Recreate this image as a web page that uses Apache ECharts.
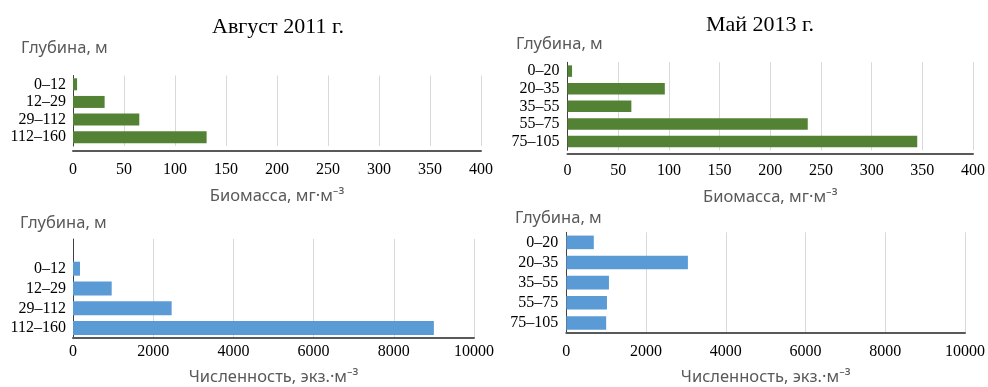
<!DOCTYPE html>
<html>
<head>
<meta charset="utf-8">
<script src="https://cdn.jsdelivr.net/npm/echarts@6/dist/echarts.min.js"></script>
<style>
  html, body { margin: 0; padding: 0; background: #fff; }
  #main { width: 988px; height: 387px; }
</style>
</head>
<body>
<div id="main"></div>
<script>
// глубины
var depthAug = ['0–12', '12–29', '29–112', '112–160'];
var depthMay = ['0–20', '20–35', '35–55', '55–75', '75–105'];
// биомасса, мг·м-3
var biomassAug = [4, 31, 65, 131];
var biomassMay = [4.5, 96, 63, 237, 345];
// численность, экз.·м-3
var countAug = [175, 965, 2460, 9000];
var countMay = [690, 3050, 1070, 1020, 1000];
// подписи осей
var biomassTicks = { min: 0, max: 400, interval: 50 };
var countTicks = { min: 0, max: 10000, interval: 2000 };

var serif = '"Liberation Serif", "Times New Roman", serif';
var sans = '"Noto Sans", "Open Sans", sans-serif';
var green = '#548235';
var blue = '#5b9bd5';

function yAx(grid, cats, margin) {
    return {
        type: 'category',
        gridIndex: grid,
        data: cats,
        inverse: true,
        axisLine: { show: true, lineStyle: { color: '#404040', width: 1 } },
        axisTick: { show: false },
        axisLabel: { interval: 0, fontFamily: serif, fontSize: 16, color: '#000', margin: margin }
    }
}
function xAx(grid, ticks, name, opt) {
    return {
        type: 'value',
        gridIndex: grid,
        min: ticks.min,
        max: ticks.max,
        interval: ticks.interval,
        offset: opt.offset || 0,
        name: name,
        nameLocation: 'middle',
        nameGap: opt.nameGap,
        nameTextStyle: { fontFamily: sans, fontSize: 16.5, color: '#595959' },
        axisLine: { show: true, lineStyle: { color: '#595959', width: 2 } },
        axisTick: { show: false },
        axisLabel: { fontFamily: serif, fontSize: 16, color: '#000', margin: opt.margin,
            formatter: function (v) { return String(v); } },
        splitLine: { show: true, lineStyle: { color: '#d9d9d9', width: 1 } }
    }
}
function depthTitle(left, top) {
    return {
        text: 'Глубина, м', left: left, top: top,
        padding: 0,
        textStyle: { fontFamily: sans, fontSize: 16.5, fontWeight: 'normal', color: '#595959' }
    }
}

// в нижнем левом графике сверху пустая строка
var depthAugPad = [''].concat(depthAug);
var countAugPad = ['-'].concat(countAug);

var chart = echarts.init(document.getElementById('main'));
chart.setOption({
    animation: false,
    title: [
        { text: 'Август 2011 г.', left: 278, top: 16, textAlign: 'center', padding: 0,
          textStyle: { fontFamily: serif, fontSize: 22, fontWeight: 'normal', color: '#000' } },
        { text: 'Май 2013 г.', left: 760, top: 14, textAlign: 'center', padding: 0,
          textStyle: { fontFamily: serif, fontSize: 22, fontWeight: 'normal', color: '#000' } },
        depthTitle(21, 40),
        depthTitle(516, 36),
        depthTitle(20, 215),
        depthTitle(515, 210)
    ],
    grid: [
        { left: 73, top: 75.5, width: 408, height: 70.5 },
        { left: 567.5, top: 62.3, width: 407.6, height: 88 },
        { left: 73, top: 239, width: 401, height: 102.7 },
        { left: 566.3, top: 232.3, width: 401.7, height: 104.4 }
    ],
    yAxis: [
        yAx(0, depthAug, 7),
        yAx(1, depthMay, 8),
        yAx(2, depthAugPad, 7),
        yAx(3, depthMay, 8)
    ],
    xAxis: [
        xAx(0, biomassTicks, 'Биомасса, мг·м⁻³', { offset: 5, margin: 11, nameGap: 37 }),
        xAx(1, biomassTicks, 'Биомасса, мг·м⁻³', { offset: 3, margin: 9, nameGap: 35 }),
        xAx(2, countTicks, 'Численность, экз.·м⁻³', { margin: 6, nameGap: 31 }),
        xAx(3, countTicks, 'Численность, экз.·м⁻³', { margin: 11, nameGap: 36 })
    ],
    series: [
        { type: 'bar', xAxisIndex: 0, yAxisIndex: 0, data: biomassAug, barWidth: 12,
          itemStyle: { color: green } },
        { type: 'bar', xAxisIndex: 1, yAxisIndex: 1, data: biomassMay, barWidth: 11.5,
          itemStyle: { color: green } },
        { type: 'bar', xAxisIndex: 2, yAxisIndex: 2, data: countAugPad, barWidth: 14,
          itemStyle: { color: blue } },
        { type: 'bar', xAxisIndex: 3, yAxisIndex: 3, data: countMay, barWidth: 13.6,
          itemStyle: { color: blue } }
    ]
});
</script>
</body>
</html>
